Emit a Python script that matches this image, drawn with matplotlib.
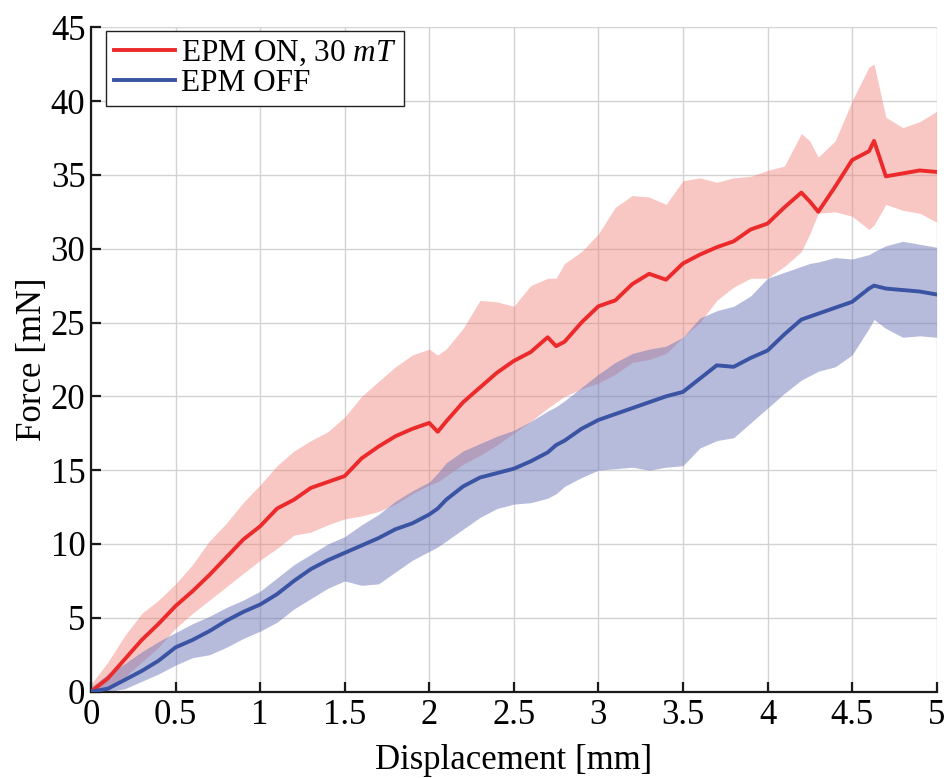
import matplotlib
matplotlib.use("Agg")
import matplotlib.pyplot as plt
import numpy as np

# Displacement grid [mm]
disp = [0.0, 0.1, 0.2, 0.3, 0.4, 0.5, 0.6, 0.7, 0.8, 0.9, 1.0, 1.1, 1.2, 1.3, 1.4,
        1.5, 1.6, 1.7, 1.8, 1.9, 2.0, 2.05, 2.1, 2.2, 2.3, 2.4, 2.5, 2.6, 2.7, 2.75,
        2.8, 2.9, 3.0, 3.1, 3.2, 3.3, 3.4, 3.5, 3.6, 3.7, 3.8, 3.9, 4.0, 4.1, 4.2,
        4.25, 4.3, 4.4, 4.5, 4.6, 4.63, 4.7, 4.8, 4.9, 5.0]

# EPM ON, 30 mT  [mN]
on_mean = [0.0, 0.9, 2.2, 3.5, 4.6, 5.8, 6.8, 7.9, 9.1, 10.3, 11.2, 12.4, 13.0, 13.8, 14.2,
           14.6, 15.8, 16.6, 17.3, 17.8, 18.2, 17.6, 18.3, 19.6, 20.6, 21.6, 22.4, 23.0, 24.0, 23.4,
           23.7, 25.0, 26.1, 26.5, 27.6, 28.3, 27.9, 29.0, 29.6, 30.1, 30.5, 31.3, 31.7, 32.8, 33.8,
           33.2, 32.5, 34.2, 36.0, 36.6, 37.3, 34.9, 35.1, 35.3, 35.2]
on_upper = [0.5, 2.0, 3.8, 5.3, 6.2, 7.3, 8.6, 10.2, 11.4, 12.8, 14.0, 15.3, 16.3, 17.0, 17.6,
            18.6, 20.0, 21.0, 22.0, 22.8, 23.2, 22.8, 23.2, 24.6, 26.5, 26.4, 26.1, 27.5, 28.0, 28.0,
            29.0, 29.8, 31.0, 32.8, 33.6, 33.5, 33.0, 34.6, 34.8, 34.5, 34.8, 34.9, 35.3, 35.6, 37.8,
            37.3, 36.2, 37.3, 40.0, 42.3, 42.5, 38.9, 38.2, 38.6, 39.3]
on_lower = [0.0, 0.1, 1.0, 2.0, 3.0, 4.3, 5.3, 6.2, 7.1, 8.0, 8.9, 9.7, 10.6, 10.8, 11.3,
            11.7, 11.9, 12.2, 12.7, 13.4, 14.0, 14.2, 14.6, 15.4, 16.0, 16.7, 17.5, 18.3, 19.2, 19.6,
            20.0, 20.5, 20.9, 21.5, 22.3, 22.5, 22.9, 24.0, 25.0, 26.5, 27.4, 28.0, 28.0, 28.8, 29.8,
            31.0, 32.4, 32.5, 32.2, 31.3, 31.6, 33.0, 32.6, 32.4, 31.8]

# EPM OFF [mN]
off_mean = [0.0, 0.2, 0.8, 1.4, 2.1, 3.0, 3.5, 4.1, 4.8, 5.4, 5.9, 6.6, 7.5, 8.3, 8.9,
            9.4, 9.9, 10.4, 11.0, 11.4, 12.0, 12.4, 13.0, 13.9, 14.5, 14.8, 15.1, 15.6, 16.2, 16.7,
            17.0, 17.8, 18.4, 18.8, 19.2, 19.6, 20.0, 20.3, 21.2, 22.1, 22.0, 22.6, 23.1, 24.2, 25.2,
            25.4, 25.6, 26.0, 26.4, 27.3, 27.5, 27.3, 27.2, 27.1, 26.9]
off_upper = [0.3, 1.2, 1.9, 2.7, 3.4, 4.0, 4.6, 5.1, 5.7, 6.2, 6.8, 7.7, 8.6, 9.3, 10.0,
             10.5, 11.3, 12.0, 12.9, 13.6, 14.2, 14.8, 15.5, 16.3, 16.8, 17.3, 17.7, 18.3, 19.0, 19.3,
             19.7, 20.6, 21.5, 22.3, 22.9, 23.2, 23.4, 24.0, 25.3, 25.8, 26.1, 26.8, 28.0, 28.4, 28.8,
             29.0, 29.1, 29.4, 29.3, 29.6, 29.8, 30.2, 30.5, 30.3, 30.1]
off_lower = [0.0, 0.0, 0.2, 0.7, 1.2, 1.8, 2.3, 2.5, 3.0, 3.6, 4.1, 4.7, 5.6, 6.3, 7.0,
             7.5, 7.2, 7.3, 8.1, 8.9, 9.5, 9.8, 10.2, 11.0, 11.8, 12.4, 12.7, 12.8, 13.1, 13.4,
             13.9, 14.5, 15.0, 15.1, 15.2, 15.0, 15.2, 15.3, 16.5, 17.0, 17.2, 18.2, 19.2, 20.2, 21.1,
             21.4, 21.7, 22.0, 22.8, 24.6, 25.2, 24.6, 24.0, 24.1, 24.0]

xticks = [0, 0.5, 1, 1.5, 2, 2.5, 3, 3.5, 4, 4.5, 5]
xticklabels = ["0", "0.5", "1", "1.5", "2", "2.5", "3", "3.5", "4", "4.5", "5"]
yticks = [0, 5, 10, 15, 20, 25, 30, 35, 40, 45]

plt.rcParams['font.family'] = ['Liberation Serif', 'DejaVu Serif']
plt.rcParams['mathtext.fontset'] = 'custom'
plt.rcParams['mathtext.rm'] = 'Liberation Serif'
plt.rcParams['mathtext.it'] = 'Liberation Serif:italic'

fig = plt.figure(figsize=(9.48, 7.78), dpi=100)
ax = fig.add_axes([0.096, 0.111, 0.892, 0.854])

red = '#EC2A2B'
blue = '#3A53A3'

ax.fill_between(disp, on_lower, on_upper, color='#F07A70', alpha=0.42, linewidth=0, zorder=2)
ax.fill_between(disp, off_lower, off_upper, color='#7078B8', alpha=0.5, linewidth=0, zorder=2)
ax.plot(disp, on_mean, color=red, linewidth=2.8, label=r'EPM ON, $\mathit{30\ mT}$', zorder=3)
ax.plot(disp, off_mean, color=blue, linewidth=2.8, label='EPM OFF', zorder=3)

ax.set_xlim(0, 5)
ax.set_ylim(0, 45)
ax.set_xticks(xticks)
ax.set_xticklabels(xticklabels)
ax.set_yticks(yticks)
ax.grid(True, color='#D3D3D3', linewidth=1.0, zorder=0)
ax.set_axisbelow(True)

for s in ['top', 'right']:
    ax.spines[s].set_visible(False)
for s in ['left', 'bottom']:
    ax.spines[s].set_linewidth(1.6)
    ax.spines[s].set_color('#1A1A1A')

ax.tick_params(axis='both', direction='in', length=7, width=1.6, labelsize=25,
               color='#1A1A1A')
ax.tick_params(axis='y', pad=4)
ax.tick_params(axis='x', pad=5)
ax.set_xlabel('Displacement [mm]', fontsize=25, labelpad=9)
ax.set_ylabel('Force [mN]', fontsize=25, labelpad=1)

leg = ax.legend(loc='upper left', bbox_to_anchor=(0.018, 0.995), fontsize=22.5,
                frameon=True, fancybox=False, edgecolor='#222222', framealpha=1,
                borderpad=0.25, handlelength=1.95, handletextpad=0.2, labelspacing=0.05,
                borderaxespad=0.0)
leg.get_frame().set_linewidth(1.0)

fig.savefig('out.png', dpi=100)
